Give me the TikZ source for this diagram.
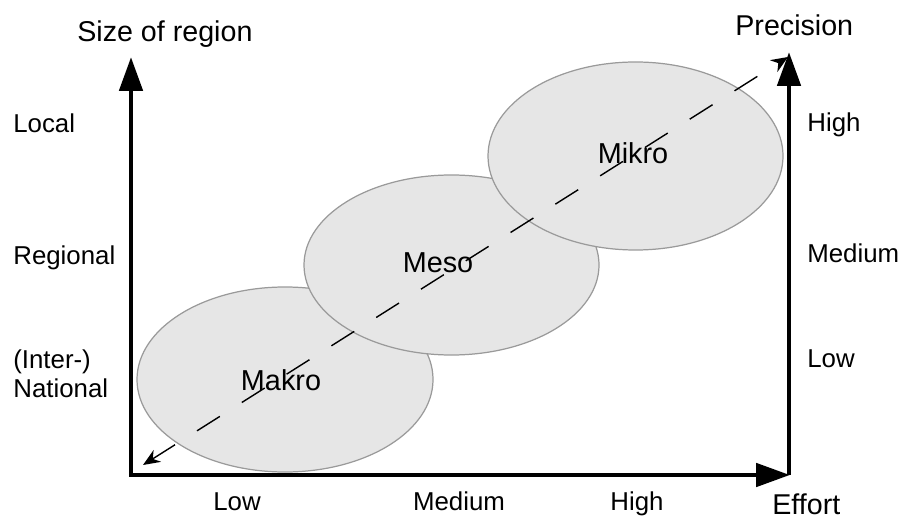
\documentclass[tikz,border=0pt]{standalone}
\usepackage{fontspec}
\setmainfont{Liberation Sans}
\usepackage{tikz}
\usetikzlibrary{arrows.meta,shapes.geometric}
\definecolor{zonefill}{HTML}{E6E6E6}
\definecolor{zoneline}{HTML}{9A9A9A}
\tikzset{
	axistip/.tip={Triangle[length=0.68cm,width=0.46cm]},
	trendtip/.tip={Stealth[length=0.34cm,width=0.28cm]},
	axis/.style={line width=2.8pt, line join=miter},
	zone/.style={ellipse, draw=zoneline, fill=zonefill, line width=0.7pt, inner sep=0pt},
	lbl/.style={inner sep=0pt, font=\fontsize{14.7}{16.4}\selectfont},
	ttl/.style={inner sep=0pt, font=\fontsize{16.3}{19}\selectfont},
	zonetxt/.style={inner sep=0pt, font=\fontsize{16.4}{19}\selectfont}
}

\begin{document}
\begin{tikzpicture}
		%%%%% START %%%%%
		\useasboundingbox (0, 0) rectangle (18.02, 10.36);
		
		\coordinate (origin) at (2.62, 0.86);
		\coordinate (sizetip) at (2.62, 9.22);
		\coordinate (efforttip) at (15.8, 0.86);
		\coordinate (precbase) at (15.78, 0.86);
		\coordinate (prectip) at (15.78, 9.32);
		
		\node[zone, minimum width=5.92cm, minimum height=3.7cm] (makro) at (5.7, 2.77) {};
		\node[zone, minimum width=5.9cm, minimum height=3.6cm] (meso) at (9.03, 5.06) {};
		\node[zone, minimum width=5.9cm, minimum height=3.76cm] (mikro) at (12.71, 7.24) {};
		
		\node[zonetxt, anchor=base] (makrotxt) at (5.62, 2.56) {Makro};
		\node[zonetxt, anchor=base] (mesotxt) at (8.76, 4.92) {Meso};
		\node[zonetxt, anchor=base] (mikrotxt) at (12.66, 7.08) {Mikro};
		
		\coordinate (trendlow) at (2.86, 1.06);
		\coordinate (trendhigh) at (15.76, 9.22);
		\draw[line width=0.8pt, dash pattern=on 0.54cm off 0.52cm, trendtip-trendtip] (trendlow) -- (trendhigh);
		
		\draw[axis, axistip-axistip] (sizetip) -- (origin) -- (efforttip);
		\draw[axis, -axistip] (precbase) -- (prectip);
		
		\node[ttl, anchor=base west] (sizettl) at (1.54, 9.52) {Size of region};
		\node[ttl, anchor=base west] (precttl) at (14.7, 9.64) {Precision};
		\node[ttl, anchor=base west] (effortttl) at (15.44, 0.08) {Effort};
		
		\node[lbl, anchor=base west] (local) at (0.26, 7.7) {Local};
		\node[lbl, anchor=base west] (regional) at (0.26, 5.06) {Regional};
		\node[lbl, anchor=west, align=left] (national) at (0.26, 2.89) {(Inter-)\\National};
		
		\node[lbl, anchor=base west] (prechigh) at (16.14, 7.72) {High};
		\node[lbl, anchor=base west] (precmed) at (16.14, 5.1) {Medium};
		\node[lbl, anchor=base west] (preclow) at (16.14, 3.02) {Low};
		
		\node[lbl, anchor=base] (efflow) at (4.74, 0.16) {Low};
		\node[lbl, anchor=base] (effmed) at (9.18, 0.16) {Medium};
		\node[lbl, anchor=base] (effhigh) at (12.74, 0.16) {High};
		%%%%% END %%%%%
\end{tikzpicture}
\end{document}
